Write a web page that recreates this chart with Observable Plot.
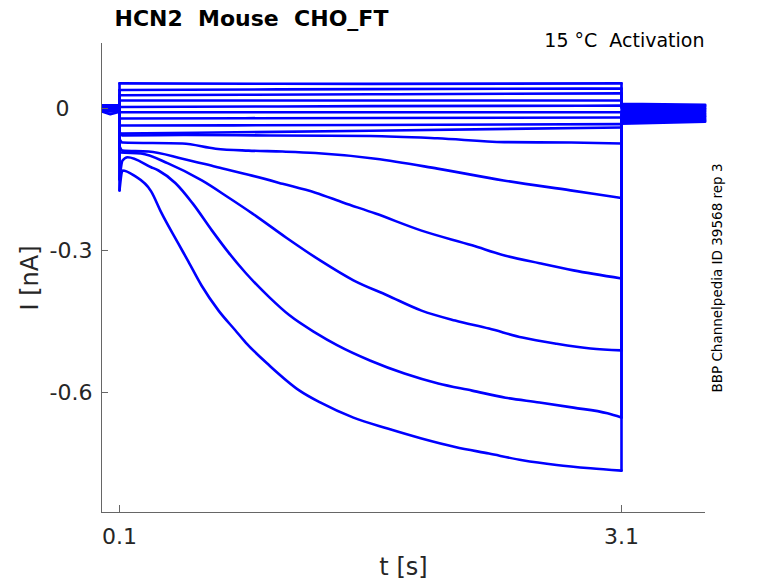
<!DOCTYPE html>
<html>
<head>
<meta charset="utf-8">
<script src="https://cdn.jsdelivr.net/npm/d3@7"></script>
<script src="https://cdn.jsdelivr.net/npm/@observablehq/plot@0.6"></script>
<style>
  html, body { margin: 0; padding: 0; background: #fff; }
  svg text { white-space: pre; }
</style>
</head>
<body>
<div id="chart"></div>
<script>
// ---- data: [t (s), I (nA)] ----
const flat1 = [[0,0.007],[0.1,0.007],[0.1,0.053],[1.6,0.052],[3.1,0.053],[3.1,0.010],[3.6,0.008]];
const flat2 = [[0,0.006],[0.1,0.006],[0.1,0.039],[1.6,0.041],[3.1,0.042],[3.1,0.008],[3.6,0.006]];
const flat3 = [[0,0.005],[0.1,0.005],[0.1,0.028],[1.6,0.030],[3.1,0.032],[3.1,0.005],[3.6,0.004]];
const flat4 = [[0,0.004],[0.1,0.004],[0.1,0.017],[1.6,0.017],[3.1,0.017],[3.1,0.002],[3.6,0.001]];
const flat5 = [[0,0.003],[0.1,0.003],[0.1,0.003],[1.6,0.005],[3.1,0.006],[3.1,0.000],[3.6,-0.001]];
const flat6 = [[0,0.002],[0.1,0.002],[0.1,-0.008],[1.6,-0.008],[3.1,-0.008],[3.1,-0.004],[3.6,-0.004]];
const flat7 = [[0,0.001],[0.1,0.001],[0.1,-0.021],[1.6,-0.020],[3.1,-0.019],[3.1,-0.008],[3.6,-0.007]];
const flat8 = [[0,0.000],[0.1,0.000],[0.1,-0.036],[1.6,-0.035],[3.1,-0.033],[3.1,-0.012],[3.6,-0.010]];
const flat9 = [[0,-0.001],[0.1,-0.001],[0.1,-0.053],[1.6,-0.047],[3.1,-0.040],[3.1,-0.015],[3.6,-0.013]];
const trace6 = [[0,-0.002],[0.1,-0.002],[0.1,-0.050],[0.12,-0.057],[0.5,-0.056],[1.0,-0.057],[1.6,-0.058],[2.0,-0.063],[2.4,-0.071],[2.8,-0.072],[3.1,-0.074],[3.1,-0.018],[3.6,-0.016]];
const trace5 = [[0,-0.003],[0.1,-0.003],[0.1,-0.065],[0.118,-0.072],[0.476,-0.074],[0.674,-0.085],[0.871,-0.089],[1.074,-0.091],[1.271,-0.094],[1.63,-0.106],[2.0,-0.127],[2.395,-0.152],[2.795,-0.173],[3.1,-0.189],[3.1,-0.021],[3.6,-0.018]];
const trace4 = [[0,-0.004],[0.1,-0.004],[0.1,-0.080],[0.118,-0.089],[0.273,-0.091],[0.476,-0.106],[0.674,-0.123],[0.871,-0.140],[1.074,-0.159],[1.271,-0.178],[1.439,-0.199],[1.63,-0.222],[1.905,-0.258],[2.207,-0.289],[2.407,-0.311],[2.61,-0.327],[2.813,-0.342],[3.1,-0.359],[3.1,-0.024],[3.6,-0.021]];
const trace3 = [[0,-0.005],[0.1,-0.005],[0.1,-0.085],[0.106,-0.093],[0.228,-0.095],[0.39,-0.116],[0.592,-0.152],[0.751,-0.188],[0.895,-0.222],[1.097,-0.273],[1.299,-0.321],[1.498,-0.363],[1.702,-0.395],[1.905,-0.427],[2.106,-0.448],[2.308,-0.465],[2.508,-0.484],[2.712,-0.497],[2.915,-0.507],[3.1,-0.511],[3.1,-0.027],[3.6,-0.024]];
const trace2 = [[0,-0.006],[0.1,-0.006],[0.1,-0.150],[0.118,-0.110],[0.148,-0.103],[0.289,-0.124],[0.333,-0.131],[0.435,-0.158],[0.536,-0.200],[0.653,-0.258],[0.751,-0.304],[0.853,-0.347],[0.996,-0.399],[1.116,-0.437],[1.277,-0.475],[1.4,-0.500],[1.6,-0.533],[1.803,-0.560],[2.005,-0.581],[2.207,-0.596],[2.407,-0.611],[2.61,-0.621],[2.813,-0.632],[3.016,-0.644],[3.1,-0.653],[3.1,-0.029],[3.6,-0.026]];
const trace1 = [[0,-0.007],[0.045,-0.012],[0.1,-0.007],[0.1,-0.173],[0.118,-0.131],[0.188,-0.142],[0.289,-0.175],[0.35,-0.220],[0.451,-0.285],[0.511,-0.323],[0.592,-0.375],[0.692,-0.427],[0.793,-0.469],[0.853,-0.494],[0.996,-0.543],[1.176,-0.596],[1.299,-0.621],[1.498,-0.653],[1.702,-0.676],[1.905,-0.697],[2.106,-0.715],[2.308,-0.729],[2.508,-0.743],[2.712,-0.753],[2.915,-0.760],[3.1,-0.765],[3.1,-0.032],[3.6,-0.028]];

const xTicks = [0.1, 3.1];
const yTicks = [0, -0.3, -0.6];
const yTickLabels = ["0", "-0.3", "-0.6"];

const titleText = "HCN2  Mouse  CHO_FT";
const conditionText = "15 °C  Activation";
const sourceText = "BBP Channelpedia ID 39568 rep 3";
const xLabel = "t [s]";
const yLabel = "I [nA]";

const traces = [flat1, flat2, flat3, flat4, flat5, flat6, flat7, flat8, flat9, trace6, trace5, trace4, trace3, trace2, trace1];

// ---- chart ----
const stepStart = 0.1, stepEnd = 3.1;
const xDomain = [-0.0076, 3.602];
const yDomain = [-0.8535, 0.1373];
const axisColor = "#666666";
const textColor = "#262626";
const labelOf = d => yTickLabels[yTicks.indexOf(d)];

// split each trace into pre-pulse (with jump), smooth step part, and drop + tail
function parts(tr) {
  let a = -1, b = tr.length;
  tr.forEach((p, i) => { if (p[0] === stepStart) a = i; });
  for (let i = 0; i < tr.length; i++) { if (tr[i][0] === stepEnd) { b = i; break; } }
  return { pre: tr.slice(0, a + 1), step: tr.slice(a, b + 1), tail: tr.slice(b) };
}
const lineStyle = { x: d => d[0], y: d => d[1], stroke: "#0000ff", strokeWidth: 2.6, strokeLinejoin: "round", strokeLinecap: "round" };
const traceMarks = traces.flatMap(tr => {
  const p = parts(tr);
  return [
    Plot.line(p.pre, lineStyle),
    Plot.line(p.step, { ...lineStyle, curve: "monotone-x" }),
    Plot.line(p.tail, lineStyle)
  ];
});

const chart = Plot.plot({
  width: 778,
  height: 583,
  marginLeft: 101,
  marginRight: 73,
  marginTop: 43,
  marginBottom: 71,
  style: { fontFamily: "DejaVu Sans", background: "#fff", overflow: "visible" },
  x: { domain: xDomain, label: null },
  y: { domain: yDomain, label: null },
  marks: [
    ...traceMarks,
    Plot.ruleX([xDomain[0]], { stroke: axisColor, strokeWidth: 1 }),
    Plot.ruleY([yDomain[0]], { stroke: axisColor, strokeWidth: 1 }),
    Plot.tickY(yTicks, { y: d => d, stroke: axisColor, insetRight: 597 }),
    Plot.tickX(xTicks, { x: d => d, stroke: axisColor, insetTop: 462 }),
    Plot.axisY(yTicks.filter(d => d !== 0), { tickSize: 0, tickPadding: 9, fontSize: 22, fill: textColor, tickFormat: labelOf, label: null }),
    Plot.axisY([0], { tickSize: 0, tickPadding: 32, fontSize: 22, fill: textColor, tickFormat: labelOf, label: null }),
    Plot.axisX(xTicks, { tickSize: 0, tickPadding: 16, fontSize: 22, fill: textColor, tickFormat: d => d.toFixed(1), label: null }),
    Plot.text([xLabel], { frameAnchor: "bottom", dy: 55, fontSize: 24, fill: textColor, textAnchor: "middle", lineAnchor: "middle" }),
    Plot.text([yLabel], { frameAnchor: "left", dx: -71, rotate: -90, fontSize: 24, fill: textColor, textAnchor: "middle", lineAnchor: "middle" }),
    Plot.text([titleText], { frameAnchor: "top-left", dx: 13, dy: -25, fontSize: 22, fontWeight: "bold", fill: "#000", textAnchor: "start", lineAnchor: "middle" }),
    Plot.text([conditionText], { frameAnchor: "top-right", dx: -1, dy: -3, fontSize: 19, fill: "#000", textAnchor: "end", lineAnchor: "middle" }),
    Plot.text([sourceText], { frameAnchor: "right", dx: 12, rotate: -90, fontSize: 13.5, fill: "#000", textAnchor: "middle", lineAnchor: "middle" })
  ]
});
document.getElementById("chart").appendChild(chart);
</script>
</body>
</html>
